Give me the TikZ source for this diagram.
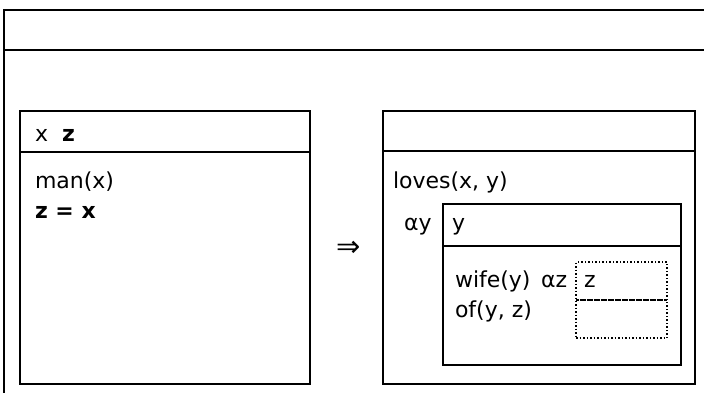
\documentclass[tikz,border=0pt]{standalone}
\usepackage{fontspec}
\setmainfont{DejaVu Sans}
\usetikzlibrary{positioning}

\begin{document}
\begin{tikzpicture}[x=1pt,y=1pt]
    \tikzstyle{every node}=[inner sep=0,outer sep=0]
    \tikzstyle{drs}=[draw,rectangle,line width=1.5,anchor=north west]
    \tikzstyle{dotbox}=[drs,dotted,line width=1.5]
    \tikzstyle{txt}=[anchor=base west,font=\fontsize{22}{26}\selectfont]
    \useasboundingbox (0,0) rectangle (704,-392);
    \clip (0,0) rectangle (704,-392);
    {
        % outer box, running off the page
        \node[drs,minimum width=720,minimum height=40] (outhead) at (4,-10) {};
        \node[drs,minimum width=720,minimum height=360] (outbody) at (outhead.south west) {};

        % left box
        \node[drs,minimum width=290,minimum height=41] (lhead) at (20,-111) {};
        \node[drs,minimum width=290,minimum height=232] (lbody) at (lhead.south west) {};
        \node[txt] (lref) at (35,-141) {x~ \textbf{z}};
        \node[txt] (lman) at (35,-188) {man(x)};
        \node[txt,below=30 of lman.base west,anchor=base west] (leq) {\textbf{z = x}};

        \node[anchor=center,font=\fontsize{29}{32}\selectfont] (imp) at (349,-249) {⇒};

        % right box
        \node[drs,minimum width=312,minimum height=40] (rhead) at (383,-111) {};
        \node[drs,minimum width=312,minimum height=233] (rbody) at (rhead.south west) {};
        \node[txt] (rloves) at (393,-188) {loves(x, y)};

        % box for y
        \node[drs,minimum width=238,minimum height=42] (yhead) at (443,-204) {};
        \node[drs,minimum width=238,minimum height=119] (ybody) at (yhead.south west) {};
        \node[txt] (yalpha) at (404,-230) {αy};
        \node[txt] (yref) at (452,-230) {y};
        \node[txt] (ywife) at (455,-287) {wife(y)};
        \node[txt,below=30 of ywife.base west,anchor=base west] (yof) {of(y, z)};

        % dotted box for z
        \node[dotbox,minimum width=91,minimum height=38] (zhead) at (576,-262) {};
        \node[dotbox,minimum width=91,minimum height=38] (zbody) at (zhead.south west) {};
        \node[txt] (zalpha) at (541,-287) {αz};
        \node[txt] (zref) at (584,-287) {z};
    }
\end{tikzpicture}
\end{document}
